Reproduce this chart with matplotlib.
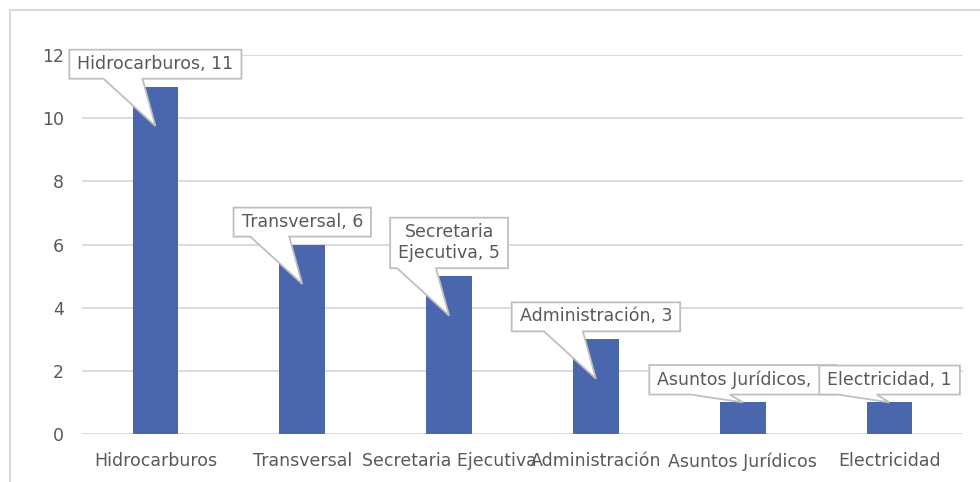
import matplotlib.pyplot as plt
from matplotlib.lines import Line2D
from matplotlib.patches import Polygon

plt.rcParams["font.family"] = ["DejaVu Sans"]

categories = ["Hidrocarburos", "Transversal", "Secretaria Ejecutiva",
              "Administración", "Asuntos Jurídicos", "Electricidad"]
values = [11, 6, 5, 3, 1, 1]
callout_text = ["Hidrocarburos, 11", "Transversal, 6", "Secretaria\nEjecutiva, 5",
                "Administración, 3", "Asuntos Jurídicos, 1", "Electricidad, 1"]

TEXT = "#595959"
GRID = "#d9d9d9"
BAR = "#4a66ac"
FS = 12.5

fig = plt.figure(figsize=(9.8, 4.82), dpi=100)
ax = fig.add_axes([82 / 980, 48 / 482, 881 / 980, 379 / 482])

x = range(len(categories))
ax.bar(x, values, width=0.31, color=BAR, zorder=2)
ax.set_xlim(-0.5, len(categories) - 0.5)
ax.set_ylim(0, 12)
ax.set_yticks(range(0, 13, 2))
ax.set_xticks(list(x))
ax.set_xticklabels(categories)
ax.tick_params(length=0, labelsize=FS, colors=TEXT)
ax.tick_params(axis="y", pad=13)
ax.tick_params(axis="x", pad=13)
ax.grid(axis="y", color=GRID, lw=1.3, zorder=0)
for s in ax.spines.values():
    s.set_visible(False)

# outer chart frame (only left/top visible in the crop)
fig.add_artist(Line2D([10 / 980, 10 / 980], [0, 1 - 10 / 482], color=GRID, lw=1.5))
fig.add_artist(Line2D([10 / 980, 1], [1 - 10 / 482, 1 - 10 / 482], color=GRID, lw=1.5))

fig.canvas.draw()
renderer = fig.canvas.get_renderer()
to_data = ax.transData.inverted()
px_y = 379 / 12  # pixels per unit

z = 5
for i, (v, t) in enumerate(zip(values, callout_text)):
    bottom_px = ax.transData.transform((i, v))[1] + 0.25 * px_y
    cx = ax.transData.transform((i, v))[0]
    txt = ax.text(0, 0, t, ha="center", va="bottom", fontsize=FS, color=TEXT,
                  linespacing=1.25, zorder=z + 1)
    pad_y = 6
    pad_x = 8
    txt.set_transform(None)
    txt.set_position((cx, bottom_px + pad_y))
    ext = txt.get_window_extent(renderer)
    L, R = ext.x0 - pad_x, ext.x1 + pad_x
    B, T = bottom_px, ext.y1 + pad_y - 1
    tip_y = ax.transData.transform((i, v - 1.25 if v > 2 else v))[1]
    b1, b2 = (cx - 52, cx - 13)
    pts = [(L, B), (b1, B), (cx, tip_y), (b2, B), (R, B), (R, T), (L, T)]
    pts = [to_data.transform(p) for p in pts]
    ax.add_patch(Polygon(pts, closed=True, fc="white", ec="#bfbfbf", lw=1.3,
                         zorder=z, clip_on=False))
    z += 2

fig.savefig("out.png", dpi=100)
